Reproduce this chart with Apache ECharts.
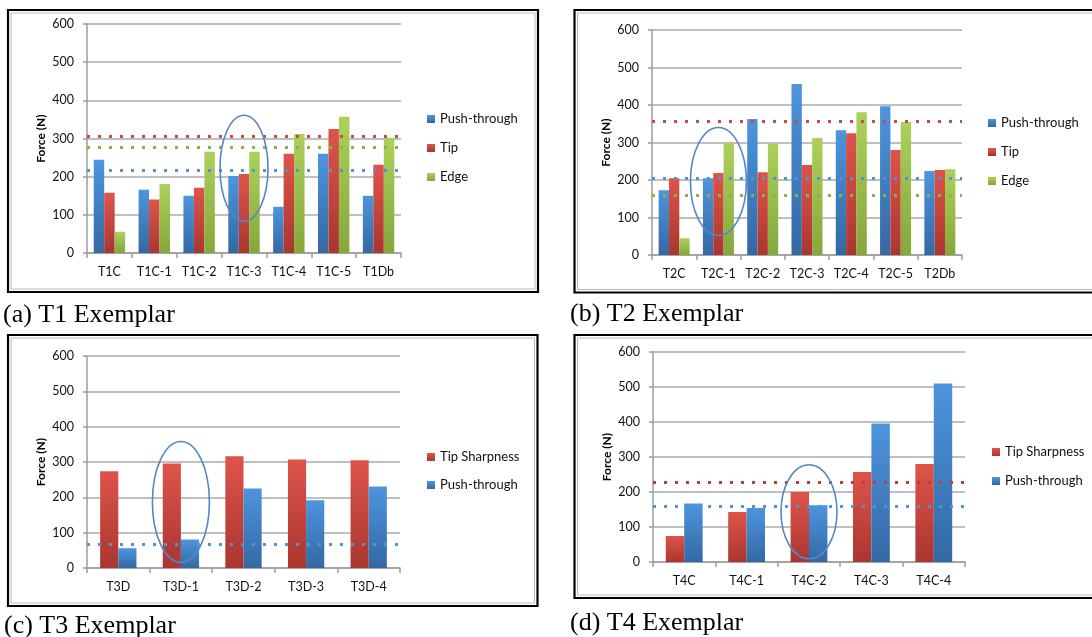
<!DOCTYPE html>
<html>
<head>
<meta charset="utf-8">
<script src="https://cdn.jsdelivr.net/npm/echarts@6/dist/echarts.min.js"></script>
<style>
  html, body { margin: 0; padding: 0; background: #ffffff; }
  #chart { width: 1092px; height: 637px; }
</style>
</head>
<body>
<div id="chart"></div>
<script>
// ---- T1 exemplar ----
const t1Categories = ['T1C', 'T1C-1', 'T1C-2', 'T1C-3', 'T1C-4', 'T1C-5', 'T1Db'];
const t1PushThrough = [244, 166, 150, 202, 121, 260, 150];
const t1Tip = [158, 140, 171, 207, 260, 325, 231];
const t1Edge = [56, 181, 265, 265, 312, 357, 302];
const t1Thresholds = [218, 307, 278]; // push-through, tip, edge

// ---- T2 exemplar ----
const t2Categories = ['T2C', 'T2C-1', 'T2C-2', 'T2C-3', 'T2C-4', 'T2C-5', 'T2Db'];
const t2PushThrough = [173, 205, 363, 456, 333, 397, 224];
const t2Tip = [205, 219, 221, 240, 325, 280, 227];
const t2Edge = [45, 299, 296, 312, 381, 355, 229];
const t2Thresholds = [204, 356, 159]; // push-through, tip, edge

// ---- T3 exemplar ----
const t3Categories = ['T3D', 'T3D-1', 'T3D-2', 'T3D-3', 'T3D-4'];
const t3TipSharpness = [274, 296, 316, 307, 305];
const t3PushThrough = [56, 81, 225, 192, 231];
const t3Thresholds = [null, 68]; // tip sharpness, push-through

// ---- T4 exemplar ----
const t4Categories = ['T4C', 'T4C-1', 'T4C-2', 'T4C-3', 'T4C-4'];
const t4TipSharpness = [74, 143, 200, 257, 280];
const t4PushThrough = [167, 154, 162, 396, 510];
const t4Thresholds = [228, 160]; // tip sharpness, push-through

const yTicks = [0, 100, 200, 300, 400, 500, 600];
const captions = ['(a) T1 Exemplar', '(b) T2 Exemplar', '(c) T3 Exemplar', '(d) T4 Exemplar'];
const highlighted = ['T1C-3', 'T2C-1', 'T3D-1', 'T4C-2'];

const FONT = 'Lato, "Open Sans", sans-serif';

function grad(top, bottom) {
  return new echarts.graphic.LinearGradient(0, 0, 0, 1, [
    { offset: 0, color: top }, { offset: 1, color: bottom }
  ]);
}
const BLUE = grad('#4d95de', '#3468a3');
const RED = grad('#de544b', '#aa3630');
const GREEN = grad('#abd15b', '#86a73b');
const DOT_BLUE = '#4f93d8';
const DOT_RED = '#cc4a44';
const DOT_GREEN = '#8fb14a';

const panels = [
  {
    grid: { left: 87, top: 24, width: 314, height: 229 },
    cats: t1Categories, gap: '30%', nameGap: 40,
    legend: { left: 427, top: 112, itemGap: 15 },
    series: [
      { name: 'Push-through', data: t1PushThrough, color: BLUE, ref: t1Thresholds[0], refColor: DOT_BLUE },
      { name: 'Tip', data: t1Tip, color: RED, ref: t1Thresholds[1], refColor: DOT_RED },
      { name: 'Edge', data: t1Edge, color: GREEN, ref: t1Thresholds[2], refColor: DOT_GREEN }
    ],
    ellipse: { value: 222, rx: 24, ry: 53 }
  },
  {
    grid: { left: 652, top: 30, width: 310, height: 225 },
    cats: t2Categories, gap: '30%', nameGap: 40,
    legend: { left: 988, top: 116, itemGap: 15 },
    series: [
      { name: 'Push-through', data: t2PushThrough, color: BLUE, ref: t2Thresholds[0], refColor: DOT_BLUE },
      { name: 'Tip', data: t2Tip, color: RED, ref: t2Thresholds[1], refColor: DOT_RED },
      { name: 'Edge', data: t2Edge, color: GREEN, ref: t2Thresholds[2], refColor: DOT_GREEN }
    ],
    ellipse: { value: 196, rx: 28, ry: 54 }
  },
  {
    grid: { left: 87, top: 356, width: 313, height: 212 },
    cats: t3Categories, gap: '42%', nameGap: 40,
    legend: { left: 427, top: 450, itemGap: 14 },
    series: [
      { name: 'Tip Sharpness', data: t3TipSharpness, color: RED, ref: t3Thresholds[0], refColor: DOT_RED },
      { name: 'Push-through', data: t3PushThrough, color: BLUE, ref: t3Thresholds[1], refColor: DOT_BLUE }
    ],
    ellipse: { value: 187, rx: 28.5, ry: 60.5 }
  },
  {
    grid: { left: 653, top: 352, width: 312, height: 210 },
    cats: t4Categories, gap: '41%', nameGap: 40,
    legend: { left: 992, top: 445, itemGap: 15 },
    series: [
      { name: 'Tip Sharpness', data: t4TipSharpness, color: RED, ref: t4Thresholds[0], refColor: '#b8403a' },
      { name: 'Push-through', data: t4PushThrough, color: BLUE, ref: t4Thresholds[1], refColor: DOT_BLUE }
    ],
    ellipse: { value: 143.5, rx: 28, ry: 47 }
  }
];

const AXIS_GRAY = '#9c9c9c';
const TEXT = '#111111';
const option = {
  animation: false,
  backgroundColor: '#ffffff',
  grid: [], xAxis: [], yAxis: [], series: [], legend: []
};

panels.forEach((p, i) => {
  option.grid.push(Object.assign({ containLabel: false }, p.grid));
  option.xAxis.push({
    type: 'category', gridIndex: i, data: p.cats,
    axisLine: { show: true, lineStyle: { color: AXIS_GRAY, width: 1.5 } },
    axisTick: { show: true, length: 5, alignWithLabel: false, lineStyle: { color: AXIS_GRAY, width: 1.5 } },
    axisLabel: { interval: 0, margin: 12, fontSize: 12.5, fontFamily: FONT, color: TEXT },
    splitLine: { show: false }
  });
  option.yAxis.push({
    type: 'value', gridIndex: i, min: yTicks[0], max: yTicks[yTicks.length - 1], interval: 100,
    name: 'Force (N)', nameLocation: 'middle', nameGap: p.nameGap,
    nameTextStyle: { fontSize: 12, fontWeight: 'bold', fontFamily: FONT, color: '#000' },
    axisLine: { show: true, lineStyle: { color: AXIS_GRAY, width: 1.5 } },
    axisTick: { show: true, length: 4, lineStyle: { color: AXIS_GRAY, width: 1.5 } },
    axisLabel: { margin: 13, fontSize: 12.5, fontFamily: FONT, color: TEXT },
    splitLine: { show: true, lineStyle: { color: '#ababab', width: 1.5 } }
  });
  option.legend.push({
    orient: 'vertical', left: p.legend.left, top: p.legend.top, padding: 0,
    itemGap: p.legend.itemGap, itemWidth: 8, itemHeight: 8, icon: 'rect',
    selectedMode: false,
    textStyle: { fontSize: 13, lineHeight: 14, fontFamily: FONT, color: TEXT },
    data: p.series.map(s => s.name)
  });
  p.series.forEach(s => {
    const ser = {
      type: 'bar', name: s.name, xAxisIndex: i, yAxisIndex: i,
      data: s.data, barGap: '0%', barCategoryGap: p.gap,
      itemStyle: { color: s.color },
      emphasis: { disabled: true }
    };
    if (s.ref != null) {
      ser.markLine = {
        silent: true, symbol: ['none', 'none'], label: { show: false },
        lineStyle: { type: [3, 8], width: 3, color: s.refColor, opacity: 1 },
        emphasis: { disabled: true },
        data: [{ yAxis: s.ref }]
      };
    }
    option.series.push(ser);
  });
});

const chart = echarts.init(document.getElementById('chart'), null, { renderer: 'canvas' });
chart.setOption(option);

// Panel frames: black outer border with thin grey inner rule
const frames = [
  { x: 8, y: 10, w: 530, h: 282 },
  { x: 574.5, y: 10, w: 540, h: 282.5 },
  { x: 8, y: 335, w: 529.5, h: 271 },
  { x: 574.5, y: 335, w: 540, h: 263 }
];
const graphics = [];
frames.forEach(f => {
  graphics.push({
    type: 'rect', z: 0, silent: true,
    shape: { x: f.x, y: f.y, width: f.w, height: f.h },
    style: { fill: null, stroke: '#000', lineWidth: 2.2 }
  });
  graphics.push({
    type: 'rect', z: 0, silent: true,
    shape: { x: f.x + 3, y: f.y + 3, width: f.w - 6, height: f.h - 6 },
    style: { fill: null, stroke: '#b8b8b8', lineWidth: 1 }
  });
});

// Captions under each panel
const captionPos = [[3, 324], [570, 323], [4, 635], [570, 631.5]];
captions.forEach((t, i) => {
  graphics.push({
    type: 'text', z: 5, silent: true,
    style: {
      x: captionPos[i][0], y: captionPos[i][1] - 8.5, text: t,
      font: '26px "Liberation Serif", "Times New Roman", serif',
      fill: '#000', align: 'left', verticalAlign: 'middle'
    }
  });
});

// Highlight ellipses around the selected sample in each panel
panels.forEach((p, i) => {
  const idx = p.cats.indexOf(highlighted[i]);
  const c = chart.convertToPixel({ gridIndex: i }, [idx, p.ellipse.value]);
  graphics.push({
    type: 'ellipse', z: 20, silent: true,
    shape: { cx: c[0], cy: c[1], rx: p.ellipse.rx, ry: p.ellipse.ry },
    style: { fill: null, stroke: '#5388c8', lineWidth: 1.6 }
  });
});

chart.setOption({ graphic: graphics });
</script>
</body>
</html>
